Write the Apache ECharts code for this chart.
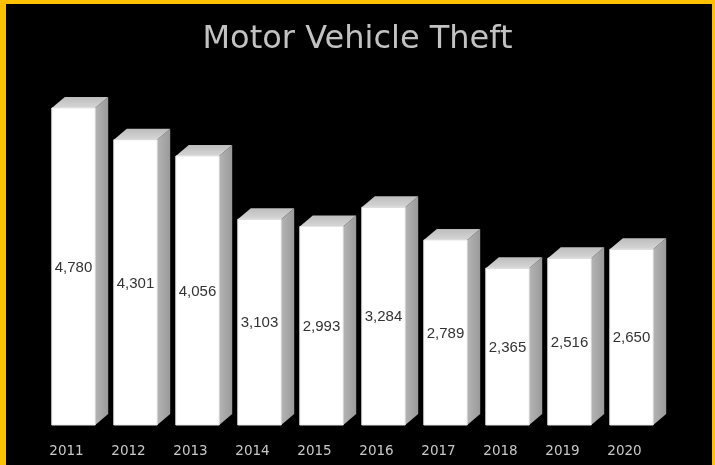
<!DOCTYPE html>
<html>
<head>
<meta charset="utf-8">
<script src="https://cdn.jsdelivr.net/npm/echarts@6/dist/echarts.min.js"></script>
<style>
  html, body { margin: 0; padding: 0; background: #000; }
  #chart { width: 715px; height: 465px; }
</style>
</head>
<body>
<div id="chart"></div>
<script>
const title = 'Motor Vehicle Theft';
const years = ['2011', '2012', '2013', '2014', '2015', '2016', '2017', '2018', '2019', '2020'];
const thefts = [4780, 4301, 4056, 3103, 2993, 3284, 2789, 2365, 2516, 2650];

const chart = echarts.init(document.getElementById('chart'));
const fmt = v => v.toLocaleString('en-US');

chart.setOption({
  backgroundColor: '#000',
  animation: false,
  title: {
    text: title,
    left: 'center',
    top: 19,
    textStyle: { color: '#c2c2c2', fontFamily: 'DejaVu Sans', fontWeight: 'normal', fontSize: 32 }
  },
  graphic: [
    { type: 'rect', shape: { x: 0, y: 0, width: 6, height: 465 }, style: { fill: '#FFC000' } },
    { type: 'rect', shape: { x: 0, y: 0, width: 715, height: 4 }, style: { fill: '#FFC000' } },
    { type: 'rect', shape: { x: 712, y: 0, width: 3, height: 465 }, style: { fill: '#FFC000' } }
  ],
  grid: { left: 42.5, right: 52.5, top: 93.4, bottom: 40 },
  xAxis: {
    type: 'category',
    data: years,
    axisLine: { show: false },
    axisTick: { show: false },
    axisLabel: {
      color: '#c8c8c8',
      fontFamily: 'DejaVu Sans',
      fontSize: 13.5,
      margin: 19,
      padding: [0, 14, 0, 0]
    }
  },
  yAxis: {
    type: 'value',
    min: 0,
    max: 5000,
    show: false,
    splitLine: { show: false }
  },
  series: [{
    type: 'custom',
    data: thefts.map((v, i) => [i, v]),
    renderItem: function (params, api) {
      const i = api.value(0);
      const v = api.value(1);
      const top = api.coord([i, v]);
      const base = api.coord([i, 0]);
      const band = api.size([1, 0])[0];
      const fw = band * 0.70;
      const x0 = top[0] - fw / 2;
      const x1 = top[0] + fw / 2;
      const dx = 13, dy = 11;
      return {
        type: 'group',
        children: [
          {
            type: 'polygon',
            shape: { points: [[x1, top[1]], [x1 + dx, top[1] - dy], [x1 + dx, base[1] - dy], [x1, base[1]]] },
            style: {
              fill: new echarts.graphic.LinearGradient(0, 0, 1, 0, [
                { offset: 0, color: '#b4b4b4' }, { offset: 1, color: '#9a9a9a' }
              ])
            }
          },
          {
            type: 'polygon',
            shape: { points: [[x0, top[1]], [x0 + dx, top[1] - dy], [x1 + dx, top[1] - dy], [x1, top[1]]] },
            style: {
              fill: new echarts.graphic.LinearGradient(0, 1, 0, 0, [
                { offset: 0, color: '#d6d6d6' }, { offset: 1, color: '#bdbdbd' }
              ])
            }
          },
          {
            type: 'rect',
            shape: { x: x0, y: top[1], width: fw, height: base[1] - top[1] },
            style: { fill: '#ffffff', stroke: '#e6e6e6', lineWidth: 1 }
          },
          {
            type: 'text',
            style: {
              text: fmt(thefts[i]),
              x: top[0],
              y: (top[1] + base[1]) / 2 + 1,
              align: 'center',
              verticalAlign: 'middle',
              fill: '#333333',
              font: '15px "Liberation Sans"'
            }
          }
        ]
      };
    }
  }]
});
</script>
</body>
</html>
